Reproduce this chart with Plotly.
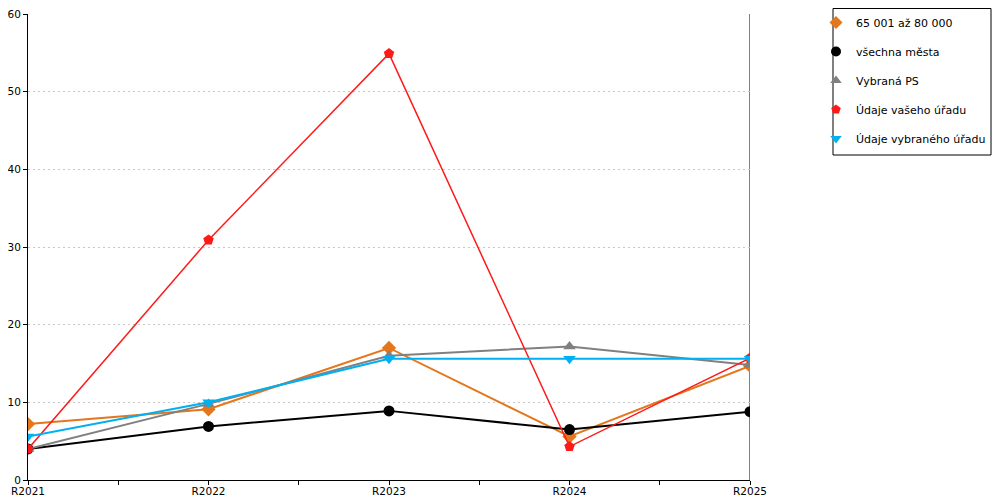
import plotly.graph_objects as go

# source values
years = ["R2021", "R2022", "R2023", "R2024", "R2025"]
series_names = ["65 001 až 80 000", "všechna města", "Vybraná PS",
                "Údaje vašeho úřadu", "Údaje vybraného úřadu"]
pop_group = [7.2, 9.1, 17.0, 5.6, 14.7]
all_cities = [4.0, 6.9, 8.9, 6.5, 8.8]
selected_ps = [4.0, 9.8, 16.0, 17.2, 14.8]
your_office = [4.0, 30.9, 54.9, 4.3, 15.7]
selected_office = [5.6, 10.0, 15.6, 15.6, 15.6]

series_values = [pop_group, all_cities, selected_ps, your_office, selected_office]
colors = ["#E4761B", "#000000", "#808080", "#FF1A1A", "#00B0F0"]
symbols = ["diamond", "circle", "triangle-up", "pentagon", "triangle-down"]
widths = [2, 2, 2, 1.5, 2]

x_pos = list(range(len(years)))

# the page body adds an 8px margin, so the figure is a bit smaller
# than the window and the margins are shifted by that amount
W, H = 992, 492
ML, MR, MT, MB = 20, 250, 6, 20
plot_w = W - ML - MR
plot_h = H - MT - MB

def px_x(px):
    return (px - ML) / plot_w

def px_y(py):
    return (H - MB - py) / plot_h

fig = go.Figure()

for i, name in enumerate(series_names):
    fig.add_trace(go.Scatter(
        x = x_pos,
        y = series_values[i],
        name = name,
        mode = "lines+markers",
        legendgroup = str(i),
        showlegend = False,
        line = dict(color = colors[i], width = widths[i]),
        marker = dict(color = colors[i], symbol = symbols[i], size = 11)
    ))
    # marker-only entry so the legend shows just the symbol
    fig.add_trace(go.Scatter(
        x = [None],
        y = [None],
        name = name,
        mode = "markers",
        legendgroup = str(i),
        marker = dict(color = colors[i], symbol = symbols[i], size = 10)
    ))

# ticks at every category and halfway between, labels only on categories
tick_vals = [v / 2 for v in range(2 * len(years) - 1)]
tick_text = [years[int(v)] if v == int(v) else "" for v in tick_vals]

fig.update_layout(
    width = W,
    height = H,
    margin = dict(l = ML, r = MR, t = MT, b = MB, autoexpand = False),
    paper_bgcolor = "white",
    plot_bgcolor = "white",
    font = dict(family = "DejaVu Sans", size = 11, color = "black"),
    showlegend = True,
    legend = dict(
        x = px_x(808), y = px_y(0), xanchor = "left", yanchor = "top",
        borderwidth = 0,
        bgcolor = "rgba(0,0,0,0)",
        font = dict(size = 11),
        traceorder = "grouped",
        tracegroupgap = 10,
        itemwidth = 30
    ),
    xaxis = dict(
        range = [0, len(years) - 1],
        tickvals = tick_vals,
        ticktext = tick_text,
        ticks = "outside",
        ticklen = 4,
        tickcolor = "black",
        ticklabelstandoff = -3,
        tickfont = dict(size = 10.5),
        showline = True,
        linecolor = "black",
        linewidth = 1,
        showgrid = False,
        zeroline = False,
        automargin = False
    ),
    yaxis = dict(
        range = [0, 60],
        dtick = 10,
        ticks = "outside",
        ticklen = 4,
        tickcolor = "black",
        tickfont = dict(size = 10.5),
        ticklabeloverflow = "allow",
        showline = True,
        linecolor = "black",
        linewidth = 1,
        showgrid = True,
        gridcolor = "#C8C8C8",
        griddash = "2px,3px",
        zeroline = False,
        automargin = False
    )
)

# right-hand vertical border line
fig.add_shape(type = "line", xref = "x", yref = "paper",
              x0 = len(years) - 1, x1 = len(years) - 1, y0 = 0, y1 = 1,
              line = dict(color = "black", width = 1), layer = "below")

# legend frame
fig.add_shape(type = "rect", xref = "paper", yref = "paper",
              x0 = px_x(825), x1 = px_x(983), y0 = px_y(147), y1 = px_y(0.5),
              line = dict(color = "black", width = 1))

fig.write_html("out.html")
